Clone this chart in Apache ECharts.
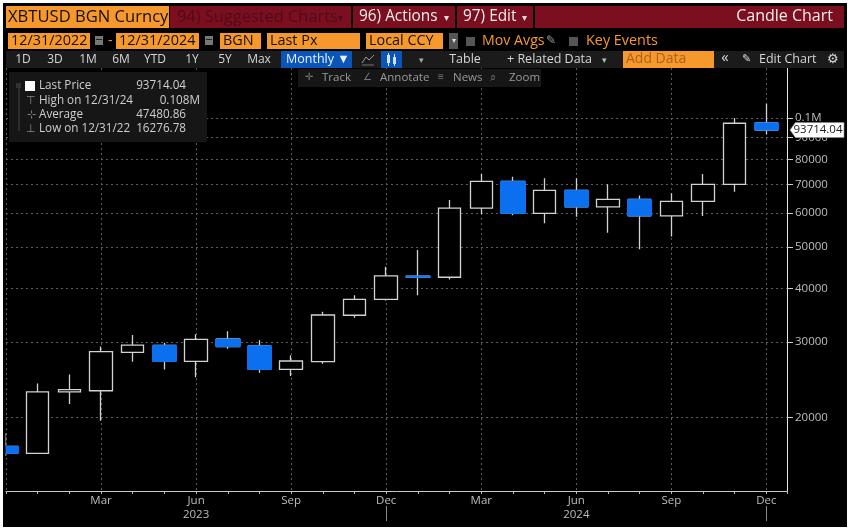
<!DOCTYPE html>
<html><head><meta charset="utf-8">
<style>html,body{margin:0;padding:0;background:#fff}#c{width:851px;height:529px}</style>
<script src="https://cdn.jsdelivr.net/npm/echarts@6/dist/echarts.min.js"></script>
</head><body><div id="c"></div>
<script>
const months=['Dec','Jan','Feb','Mar','Apr','May','Jun','Jul','Aug','Sep','Oct','Nov','Dec','Jan','Feb','Mar','Apr','May','Jun','Jul','Aug','Sep','Oct','Nov','Dec'];
const years={6:'2023',18:'2024'};
const open =[17130,16500,22950,23100,28400,29480,27040,30500,29400,25900,27000,34650,37750,42750,42500,61600,71150,59900,67800,62000,64600,59100,63900,70000,97400];
const close=[16500,22950,23250,28500,29500,27040,30450,29300,25900,27100,34700,37750,42800,42500,61600,71150,59900,67800,62000,64600,59100,63900,70000,97200,93714.04];
const low  =[16276.78,16450,21500,19660,27000,25900,24830,28950,25450,25000,26700,34200,37500,38600,41980,59700,59300,56800,58850,54000,49400,52900,59100,67300,91600];
const high =[18380,24000,25200,29300,31160,29900,31300,31800,30300,27950,35300,38600,44970,49200,64350,74000,72950,72300,72300,70000,65900,66700,74000,100000,108000];
const yTicks=[20000,30000,40000,50000,60000,70000,80000,90000,100000];
const lastPrice=93714.04;

const FONT='"Open Sans",sans-serif';
const ORANGE='#f7982c', RED='#7c0f1f', DARK='#1b1b1b', TXT='#d6d6d6';
const g=[];
const R=(x,y,w,h,fill,z)=>g.push({type:'rect',z:z||50,shape:{x,y,width:w,height:h},style:{fill},silent:true});
const T=(x,y,text,fill,size,align,extra)=>g.push(Object.assign({type:'text',z:60,x,y,silent:true,style:{text,fill,font:`${size||12}px ${FONT}`,textAlign:align||'left',textVerticalAlign:'middle'}},extra||{}));
const L=(x1,y1,x2,y2,stroke,lw)=>g.push({type:'line',z:60,shape:{x1,y1,x2,y2},style:{stroke,lineWidth:lw||1},silent:true});
const P=(points,stroke)=>g.push({type:'polyline',z:60,shape:{points},style:{stroke,fill:'none',lineWidth:1},silent:true});

// photo margin and left clip of the first candle
R(0,0,851,3,'#fff',90);R(0,527,851,2,'#fff',90);R(0,0,3,529,'#fff',90);R(847,0,4,529,'#fff',90);
R(3,68,2.5,423,'#000',40);
// title row
R(6,6,163,22,ORANGE);T(8,17,'XBTUSD BGN Curncy','#111',16.6);
R(170,6,181,22,RED);T(177,17,'94) Suggested Charts','#4e0c16',16.4);T(340,18,'▾','#4e0c16',10,'center');
R(353,6,102,22,RED);T(359,17,'96) Actions','#eee',15.4);T(446,18,'▾','#ddd',10,'center');
R(457,6,76,22,RED);T(463,17,'97) Edit','#eee',15.4);T(524,18,'▾','#ddd',10,'center');
R(535,6,309,22,RED);T(833,16,'Candle Chart','#eee',16,'right');
// inputs row
[[8,82,'12/31/2022'],[116,83,'12/31/2024'],[220,41,'BGN'],[267,93,'Last Px'],[366,77,'Local CCY']].forEach(a=>{R(a[0],33,a[1],16,ORANGE);T(a[0]+3,41,a[2],'#111',14.4);});
R(95,36,8,9,'#777');R(96,39,6,1,'#222');R(205,36,8,9,'#777');R(206,39,6,1,'#222');T(108,41,'-',ORANGE,14);
R(449,33,9,16,'#555');T(453.5,41,'▾','#ddd',8,'center');
R(466,37,9,9,'#555');T(482,41,'Mov Avgs',ORANGE,14.2);T(546,41,'✎','#999',12);
R(569,37,9,9,'#555');T(586,41,'Key Events',ORANGE,14.4);
// button row
R(6,51,838,17,DARK);
[['1D',23],['3D',55],['1M',88],['6M',121],['YTD',155],['1Y',192],['5Y',225],['Max',259]].forEach(a=>T(a[1],59.5,a[0],TXT,12,'center'));
R(281,51,71,17,'#0a55b8');T(286,59.5,'Monthly ▼','#e8f0ff',12.5);
P([[362,63],[366,57],[369,60],[374,55]],'#999');L(362,65,374,65,'#777');
R(381,51,21,17,'#0a55b8');R(387,55,3,8,'#dfe8ff');R(393,57,3,7,'#cfe0ff');L(388.5,53,388.5,66,'#cfe0ff');L(394.5,54,394.5,66,'#cfe0ff');T(421,60,'▾','#aaa',9,'center');
T(465,59.5,'Table',TXT,12.5,'center');
T(507,59.5,'+ Related Data',TXT,12.5);T(604,60,'▾','#bbb',9,'center');
R(623,51,91,17,ORANGE);T(626,59.5,'Add Data','#a8641c',14);
T(725,58,'«',TXT,15,'center');T(742,59,'✎',TXT,11);T(759,59.5,'Edit Chart',TXT,12.5);T(833,59,'⚙',TXT,13,'center');
// tool row
R(298,69,243,18,'#161616');
T(309,77.5,'✛','#777',10,'center');T(322,77.5,'Track','#9a9a9a',11.5);
T(367,77.5,'∠','#777',10,'center');T(380,77.5,'Annotate','#9a9a9a',11.5);
T(441,77.5,'≡','#777',10,'center');T(453,77.5,'News','#9a9a9a',11.5);
T(493,77.5,'⌕','#777',11,'center');T(509,77.5,'Zoom','#9a9a9a',11.5);
// legend panel
R(9,72,198,70,'#161616');
R(16,83,5,5,'#333');R(25,81,10,10,'#fff');
L(19,88,19,131,'#444');
[[86,'Last Price','93714.04'],[101,'High on 12/31/24','0.108M'],[115,'Average','47480.86'],[129,'Low on 12/31/22','16276.78']].forEach(r=>{T(39,r[0],r[1],'#cfcfcf',11.7);T(r[0]===101?200:186,r[0],r[2],'#cfcfcf',11.7,'right');});
T(31,101,'⊤','#888',11,'center');T(31,115,'⊹','#888',11,'center');T(31,129,'⊥','#888',11,'center');
// year separators
L(386.5,506,386.5,521,'#888');L(766.5,506,766.5,521,'#888');
T(827,281,'Log','#4c4c4c',20,'center',{rotation:-Math.PI/2,originX:827,originY:281});

const candleData=months.map((m,i)=>[i,open[i],close[i],low[i],high[i]]);
const downBodies=months.map((m,i)=>[i,open[i],close[i],close[i],open[i]]).filter(d=>d[1]>d[2]);

const chart=echarts.init(document.getElementById('c'));
chart.setOption({
  animation:false,
  backgroundColor:'#000',
  grid:{left:6,right:64,top:68,height:423},
  xAxis:{type:'value',min:0,max:24.65,interval:3,
    axisLine:{onZero:false,lineStyle:{color:'#c8c8c8',width:1}},
    axisTick:{show:true,length:3,lineStyle:{color:'#bbb'}},
    minorTick:{show:true,splitNumber:3,length:3,lineStyle:{color:'#bbb'}},
    splitLine:{show:true,lineStyle:{color:'#5c5c5c',type:[2,3]}},
    axisLabel:{color:'#bdbdbd',fontFamily:FONT,fontSize:11.5,margin:3,lineHeight:14,showMinLabel:false,showMaxLabel:false,
      formatter:v=>{if(!Number.isInteger(v)||v===0)return '';return months[v]+(years[v]?'\n'+years[v]:'');}}
  },
  yAxis:{type:'log',position:'right',min:13480,max:130800,
    axisLine:{show:true,onZero:false,lineStyle:{color:'#e8e8e8',width:1}},
    axisTick:{show:true,length:6,customValues:yTicks,lineStyle:{color:'#ccc'}},
    minorTick:{show:false},minorSplitLine:{show:false},
    splitLine:{show:true,lineStyle:{color:'#5c5c5c',type:[2,3]}},
    axisLabel:{color:'#bdbdbd',fontFamily:FONT,fontSize:11.5,margin:8,customValues:yTicks,showMinLabel:true,showMaxLabel:true,
      formatter:v=>Math.abs(v-100000)<1?'0.1M':String(Math.round(v))}
  },
  graphic:{elements:g},
  series:[
    {type:'candlestick',data:candleData,encode:{x:0,y:[1,2,3,4]},barWidth:23,
     itemStyle:{color:'#000',color0:'#000',borderColor:'#d2d2d2',borderColor0:'#d2d2d2',borderWidth:1.3}},
    {type:'candlestick',data:downBodies,encode:{x:0,y:[1,2,3,4]},barWidth:25,
     itemStyle:{color:'#0a70f0',color0:'#0a70f0',borderColor:'#0a70f0',borderColor0:'#0a70f0',borderWidth:1},
     markPoint:{silent:true,symbol:'path://M0 5 L6 0 L60 0 L60 10 L6 10 Z',symbolKeepAspect:false,symbolSize:[54,15],
       data:[{coord:[24.65,lastPrice],symbolOffset:[30,0]}],
       itemStyle:{color:'#fff',borderColor:'#888',borderWidth:0.5},
       label:{show:true,position:'inside',offset:[1,0],formatter:String(lastPrice),color:'#222',fontFamily:FONT,fontSize:11.5}}}
  ]
});
</script></body></html>
